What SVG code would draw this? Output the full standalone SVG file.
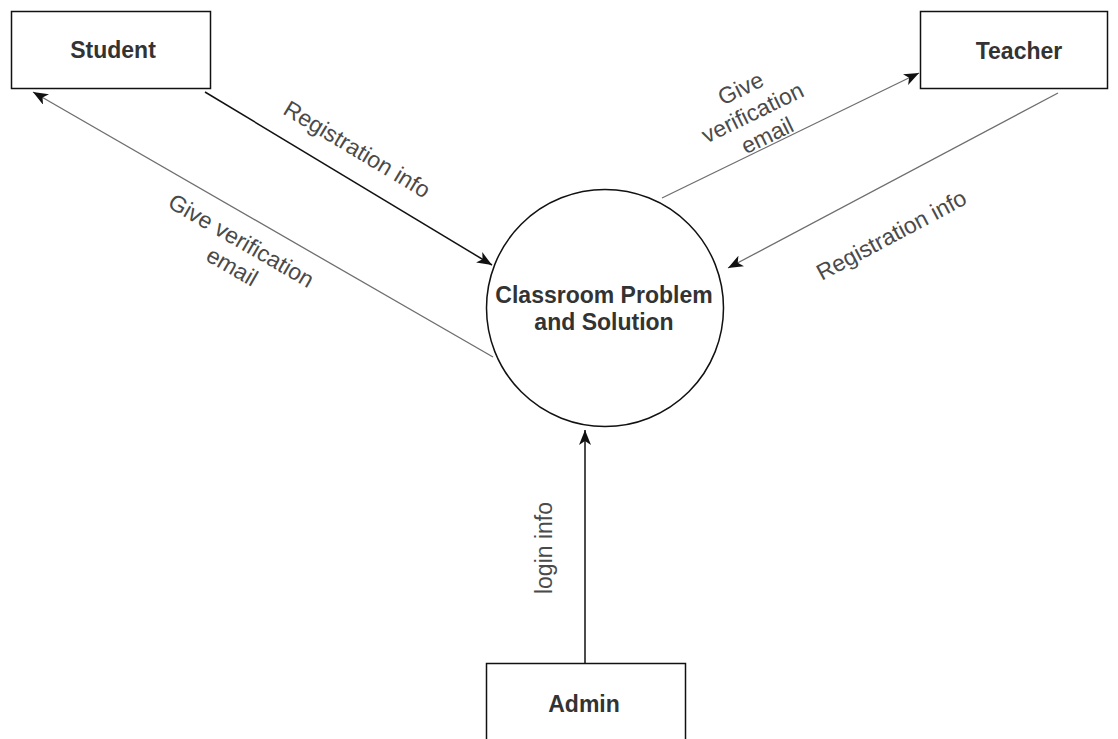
<svg xmlns="http://www.w3.org/2000/svg" width="1118" height="739" viewBox="0 0 1118 739">
  <style>
    .box { fill: #ffffff; stroke: #111111; stroke-width: 1.5; }
    .proc { fill: #ffffff; stroke: #111111; stroke-width: 1.5; }
    .title { font-family: "Liberation Sans", Arial, sans-serif; font-size: 23px; font-weight: bold; fill: #333333; text-anchor: middle; }
    .lbl { font-family: "Liberation Sans", Arial, sans-serif; font-size: 23px; fill: #4a4a4a; text-anchor: middle; }
    .flow-dark { fill: none; stroke: #111111; stroke-width: 1.5; marker-end: url(#arrow); }
    .flow-grey { fill: none; stroke: #6e6e6e; stroke-width: 1.3; marker-end: url(#arrow); }
  </style>
  <defs>
    <marker id="arrow" viewBox="0 0 15 12" refX="15" refY="6" markerWidth="15" markerHeight="12" markerUnits="userSpaceOnUse" orient="auto">
      <path d="M0,0 L15,6 L0,12 L4,6 Z" fill="#111111"/>
    </marker>
  </defs>
  <rect width="1118" height="739" fill="#ffffff"/>

  <!-- data flows -->
  <g id="connectors">
    <path class="flow-dark" d="M205,92 L492,265"/>
    <path class="flow-grey" d="M493,357 L33,92"/>
    <path class="flow-grey" d="M662,198 L919,73"/>
    <path class="flow-grey" d="M1058,93 L728,268"/>
    <path class="flow-dark" d="M585,663 L585,430"/>

    <text class="lbl" transform="translate(353,156) rotate(31)" x="0" y="0">Registration info</text>
    <text class="lbl" transform="translate(240,249) rotate(30)">
      <tspan x="0" y="0">Give verification</tspan>
      <tspan x="2" y="27">email</tspan>
    </text>
    <text class="lbl" transform="translate(747,94) rotate(-26)">
      <tspan x="0" y="0">Give</tspan>
      <tspan x="0" y="27">verification</tspan>
      <tspan x="0" y="54">email</tspan>
    </text>
    <text class="lbl" transform="translate(895,242) rotate(-28)" x="0" y="0">Registration info</text>
    <text class="lbl" transform="translate(552,548) rotate(-90)" x="0" y="0">login info</text>
  </g>

  <!-- external entities and central process -->
  <g id="student">
    <rect class="box" x="11.5" y="11.5" width="199" height="77"/>
    <text class="title" x="113" y="58">Student</text>
  </g>
  <g id="teacher">
    <rect class="box" x="920.5" y="11.5" width="187" height="77"/>
    <text class="title" x="1019" y="59">Teacher</text>
  </g>
  <g id="admin">
    <rect class="box" x="486.5" y="663.5" width="199" height="100"/>
    <text class="title" x="584" y="712">Admin</text>
  </g>
  <g id="process">
    <circle class="proc" cx="605" cy="308" r="118.5"/>
    <text class="title" x="604" y="303">Classroom Problem</text>
    <text class="title" x="604" y="330">and Solution</text>
  </g>
</svg>
